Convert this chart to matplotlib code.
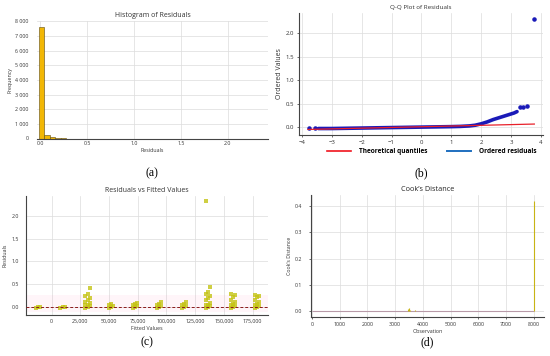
import matplotlib
matplotlib.use('Agg')
import matplotlib.pyplot as plt
import numpy as np
from matplotlib.ticker import FuncFormatter, MultipleLocator
from matplotlib.lines import Line2D

plt.rcParams['font.family'] = ['Open Sans', 'DejaVu Sans']

# --- (a) histogram of residuals
res_min, res_max = -0.015, 2.31
hist_counts = [7650, 230, 70, 25, 8, 0, 0, 0, 0, 0, 0, 0, 0, 0, 0, 0, 0, 0, 0, 0,
               0, 0, 0, 0, 0, 0, 0, 0, 0, 0, 0, 0, 0, 0, 0, 0, 0, 0, 0, 0]

# --- (b) Q-Q plot, read along the dense band and the isolated points
qq_band_x = [-3.45, -3.0, -2.5, -2.0, -1.5, -1.0, -0.5, 0.0, 0.5, 1.0, 1.3, 1.6,
             1.8, 2.0, 2.2, 2.4, 2.6, 2.8, 3.0, 3.1, 3.2]
qq_band_y = [-0.03, -0.03, -0.025, -0.02, -0.015, -0.01, -0.005, 0.0, 0.005, 0.01,
             0.015, 0.025, 0.04, 0.07, 0.11, 0.16, 0.2, 0.24, 0.28, 0.3, 0.33]
qq_tail_x = [-3.78, -3.55, 3.3, 3.4, 3.55, 3.78]
qq_tail_y = [-0.02, -0.02, 0.42, 0.42, 0.44, 2.31]
theo_x = [-3.8, 3.78]
theo_y = [-0.05, 0.065]

# --- (c) residuals vs fitted values, one list of residuals per cluster
cluster_fitted = [-11500, 9500, 31300, 51500, 72600, 93500, 115300, 136200, 158000, 178900]
cluster_resid = [
    [-0.01, 0.0, 0.01],
    [-0.01, 0.0, 0.01],
    [-0.02, 0.0, 0.02, 0.04, 0.06, 0.09, 0.12, 0.16, 0.2, 0.25, 0.3, 0.42],
    [-0.01, 0.01, 0.03, 0.05, 0.08],
    [-0.01, 0.01, 0.03, 0.05, 0.08, 0.1],
    [-0.01, 0.01, 0.03, 0.05, 0.08, 0.11],
    [-0.01, 0.01, 0.03, 0.05, 0.08, 0.11],
    [-0.02, 0.0, 0.02, 0.04, 0.06, 0.1, 0.15, 0.2, 0.25, 0.3, 0.34, 0.44, 2.31],
    [-0.01, 0.01, 0.03, 0.05, 0.07, 0.12, 0.17, 0.22, 0.27, 0.3],
    [-0.01, 0.01, 0.03, 0.05, 0.07, 0.12, 0.17, 0.22, 0.25, 0.27],
]
spread = [-1800, 0, 1800]

# --- (d) Cook's distance
n_obs = 8000
cook_obs = [3480, 3500, 3520, 3700, 3720, 4500, 4530, 5400, 8000]
cook_val = [0.008, 0.012, 0.006, 0.004, 0.003, 0.002, 0.002, 0.0015, 0.42]

W, H = 550, 356
fig = plt.figure(figsize=(W / 100, H / 100), dpi=100)


def px_axes(l, t, r, b):
    return fig.add_axes([l / W, 1 - b / H, (r - l) / W, (b - t) / H])


def style(ax, fs=3.8, ticklen=0):
    for s in ['top', 'right']:
        ax.spines[s].set_visible(False)
    for s in ['left', 'bottom']:
        ax.spines[s].set_color('#444444')
        ax.spines[s].set_linewidth(0.8)
    ax.grid(True, color='#dcdcdc', linewidth=0.5)
    ax.set_axisbelow(True)
    ax.tick_params(labelsize=fs, length=ticklen, width=0.5, colors='#333333', pad=2)


grey = '#333333'

# (a)
ax1 = px_axes(37, 21, 268, 138.5)
style(ax1)
ax1.spines['left'].set_visible(False)
edges = np.linspace(res_min, res_max, len(hist_counts) + 1)
counts = np.array(hist_counts)
nz = counts > 0
ax1.bar(edges[:-1][nz], counts[nz], width=np.diff(edges)[nz], align='edge',
        color='#f2b705', edgecolor='#5a4a10', linewidth=0.4)
ax1.set_xlim(-0.035, 2.43)
ax1.set_ylim(0, 8032)
ax1.xaxis.set_major_locator(MultipleLocator(0.5))
ax1.yaxis.set_major_locator(MultipleLocator(1000))
ax1.yaxis.set_major_formatter(FuncFormatter(lambda v, p: f'{int(v):,}'.replace(',', ' ')))
ax1.tick_params(axis='y', pad=6)
ax1.set_title('Histogram of Residuals', fontsize=5, pad=3, color=grey)
ax1.set_xlabel('Residuals', fontsize=3.8, labelpad=1.5, color=grey)
ax1.set_ylabel('Frequency', fontsize=3.8, labelpad=2, color=grey)

# (b)
ax2 = px_axes(299, 13, 543, 135)
style(ax2, fs=4.3, ticklen=1.5)
ax2.plot(qq_band_x, qq_band_y, color='#1a1ab8', lw=2.6,
         solid_capstyle='round', solid_joinstyle='round', zorder=2)
ax2.scatter(qq_tail_x, qq_tail_y, color='#1a1ab8', s=5, zorder=2)
ax2.plot(theo_x, theo_y, color='#e8202a', lw=0.9, zorder=3)
ax2.set_xlim(-4.1, 4.07)
ax2.set_ylim(-0.168, 2.428)
ax2.xaxis.set_major_locator(MultipleLocator(1))
ax2.yaxis.set_major_locator(MultipleLocator(0.5))
ax2.yaxis.set_major_formatter(FuncFormatter(lambda v, p: f'{v:.1f}'))
ax2.set_title('Q-Q Plot of Residuals', fontsize=4.5, pad=3, color=grey)
ax2.set_ylabel('Ordered Values', fontsize=5, labelpad=2, color=grey)
handles = [Line2D([], [], color='#f0141e', lw=1.2),
           Line2D([], [], color='#1f6fbf', lw=1.4)]
fig.legend(handles, ['Theoretical quantiles', 'Ordered residuals'],
           loc='center', bbox_to_anchor=(432 / W, 1 - 152 / H), ncol=2,
           frameon=False, prop={'weight': 'bold', 'size': 4.7},
           handlelength=3.6, handletextpad=1.3, columnspacing=3.0,
           borderpad=0, borderaxespad=0)

# (c)
ax3 = px_axes(26, 196, 268, 315)
style(ax3)
fx, ry = [], []
for cx, vals in zip(cluster_fitted, cluster_resid):
    for i, v in enumerate(vals):
        fx.append(cx + spread[i % len(spread)])
        ry.append(v)
ax3.axhspan(-0.1, 0.26, color='#ff7fb0', alpha=0.07, lw=0)
ax3.scatter(fx, ry, marker='s', s=5, color='#c4c414', alpha=0.8, lw=0, zorder=2)
ax3.axhline(0, color='#8b1a1a', lw=0.7, ls=(0, (3, 2)), zorder=3)
ax3.set_xlim(-22300, 188500)
ax3.set_ylim(-0.168, 2.428)
ax3.xaxis.set_major_locator(MultipleLocator(25000))
ax3.xaxis.set_major_formatter(FuncFormatter(lambda v, p: f'{int(v):,}'))
ax3.yaxis.set_major_locator(MultipleLocator(0.5))
ax3.yaxis.set_major_formatter(FuncFormatter(lambda v, p: f'{v:.1f}'))
ax3.tick_params(axis='y', pad=5)
ax3.tick_params(axis='x', pad=3)
ax3.set_title('Residuals vs Fitted Values', fontsize=5, pad=3, color=grey)
ax3.set_xlabel('Fitted Values', fontsize=3.8, labelpad=1.5, color=grey)
ax3.set_ylabel('Residuals', fontsize=3.8, labelpad=3, color=grey)

# (d)
ax4 = px_axes(311, 195, 544, 317)
style(ax4, ticklen=1.5)
ax4.hlines(0, 0, n_obs, color='#b89aa8', lw=0.8, zorder=2)
ax4.vlines(cook_obs, 0, cook_val, color='#c8b414', lw=0.8, zorder=3)
ax4.set_xlim(-30, 8360)
ax4.set_ylim(-0.021, 0.441)
ax4.xaxis.set_major_locator(MultipleLocator(1000))
ax4.yaxis.set_major_locator(MultipleLocator(0.1))
ax4.yaxis.set_major_formatter(FuncFormatter(lambda v, p: f'{v:.1f}'))
ax4.tick_params(axis='y', pad=5)
ax4.set_title("Cook\u2019s Distance", fontsize=5.2, pad=3, color='#222222')
ax4.set_xlabel('Observation', fontsize=3.8, labelpad=1.5, color=grey)
ax4.set_ylabel("Cook\u2019s Distance", fontsize=3.8, labelpad=2, color=grey)

# panel letters
for x, y, lab in [(152, 173, '(a)'), (421, 173, '(b)'), (147, 342, '(c)'), (427, 342, '(d)')]:
    fig.text(x / W, 1 - y / H, lab, ha='center', va='center', fontsize=8.5,
             family=['Liberation Serif', 'DejaVu Serif'])

fig.savefig('out.png', dpi=100)
